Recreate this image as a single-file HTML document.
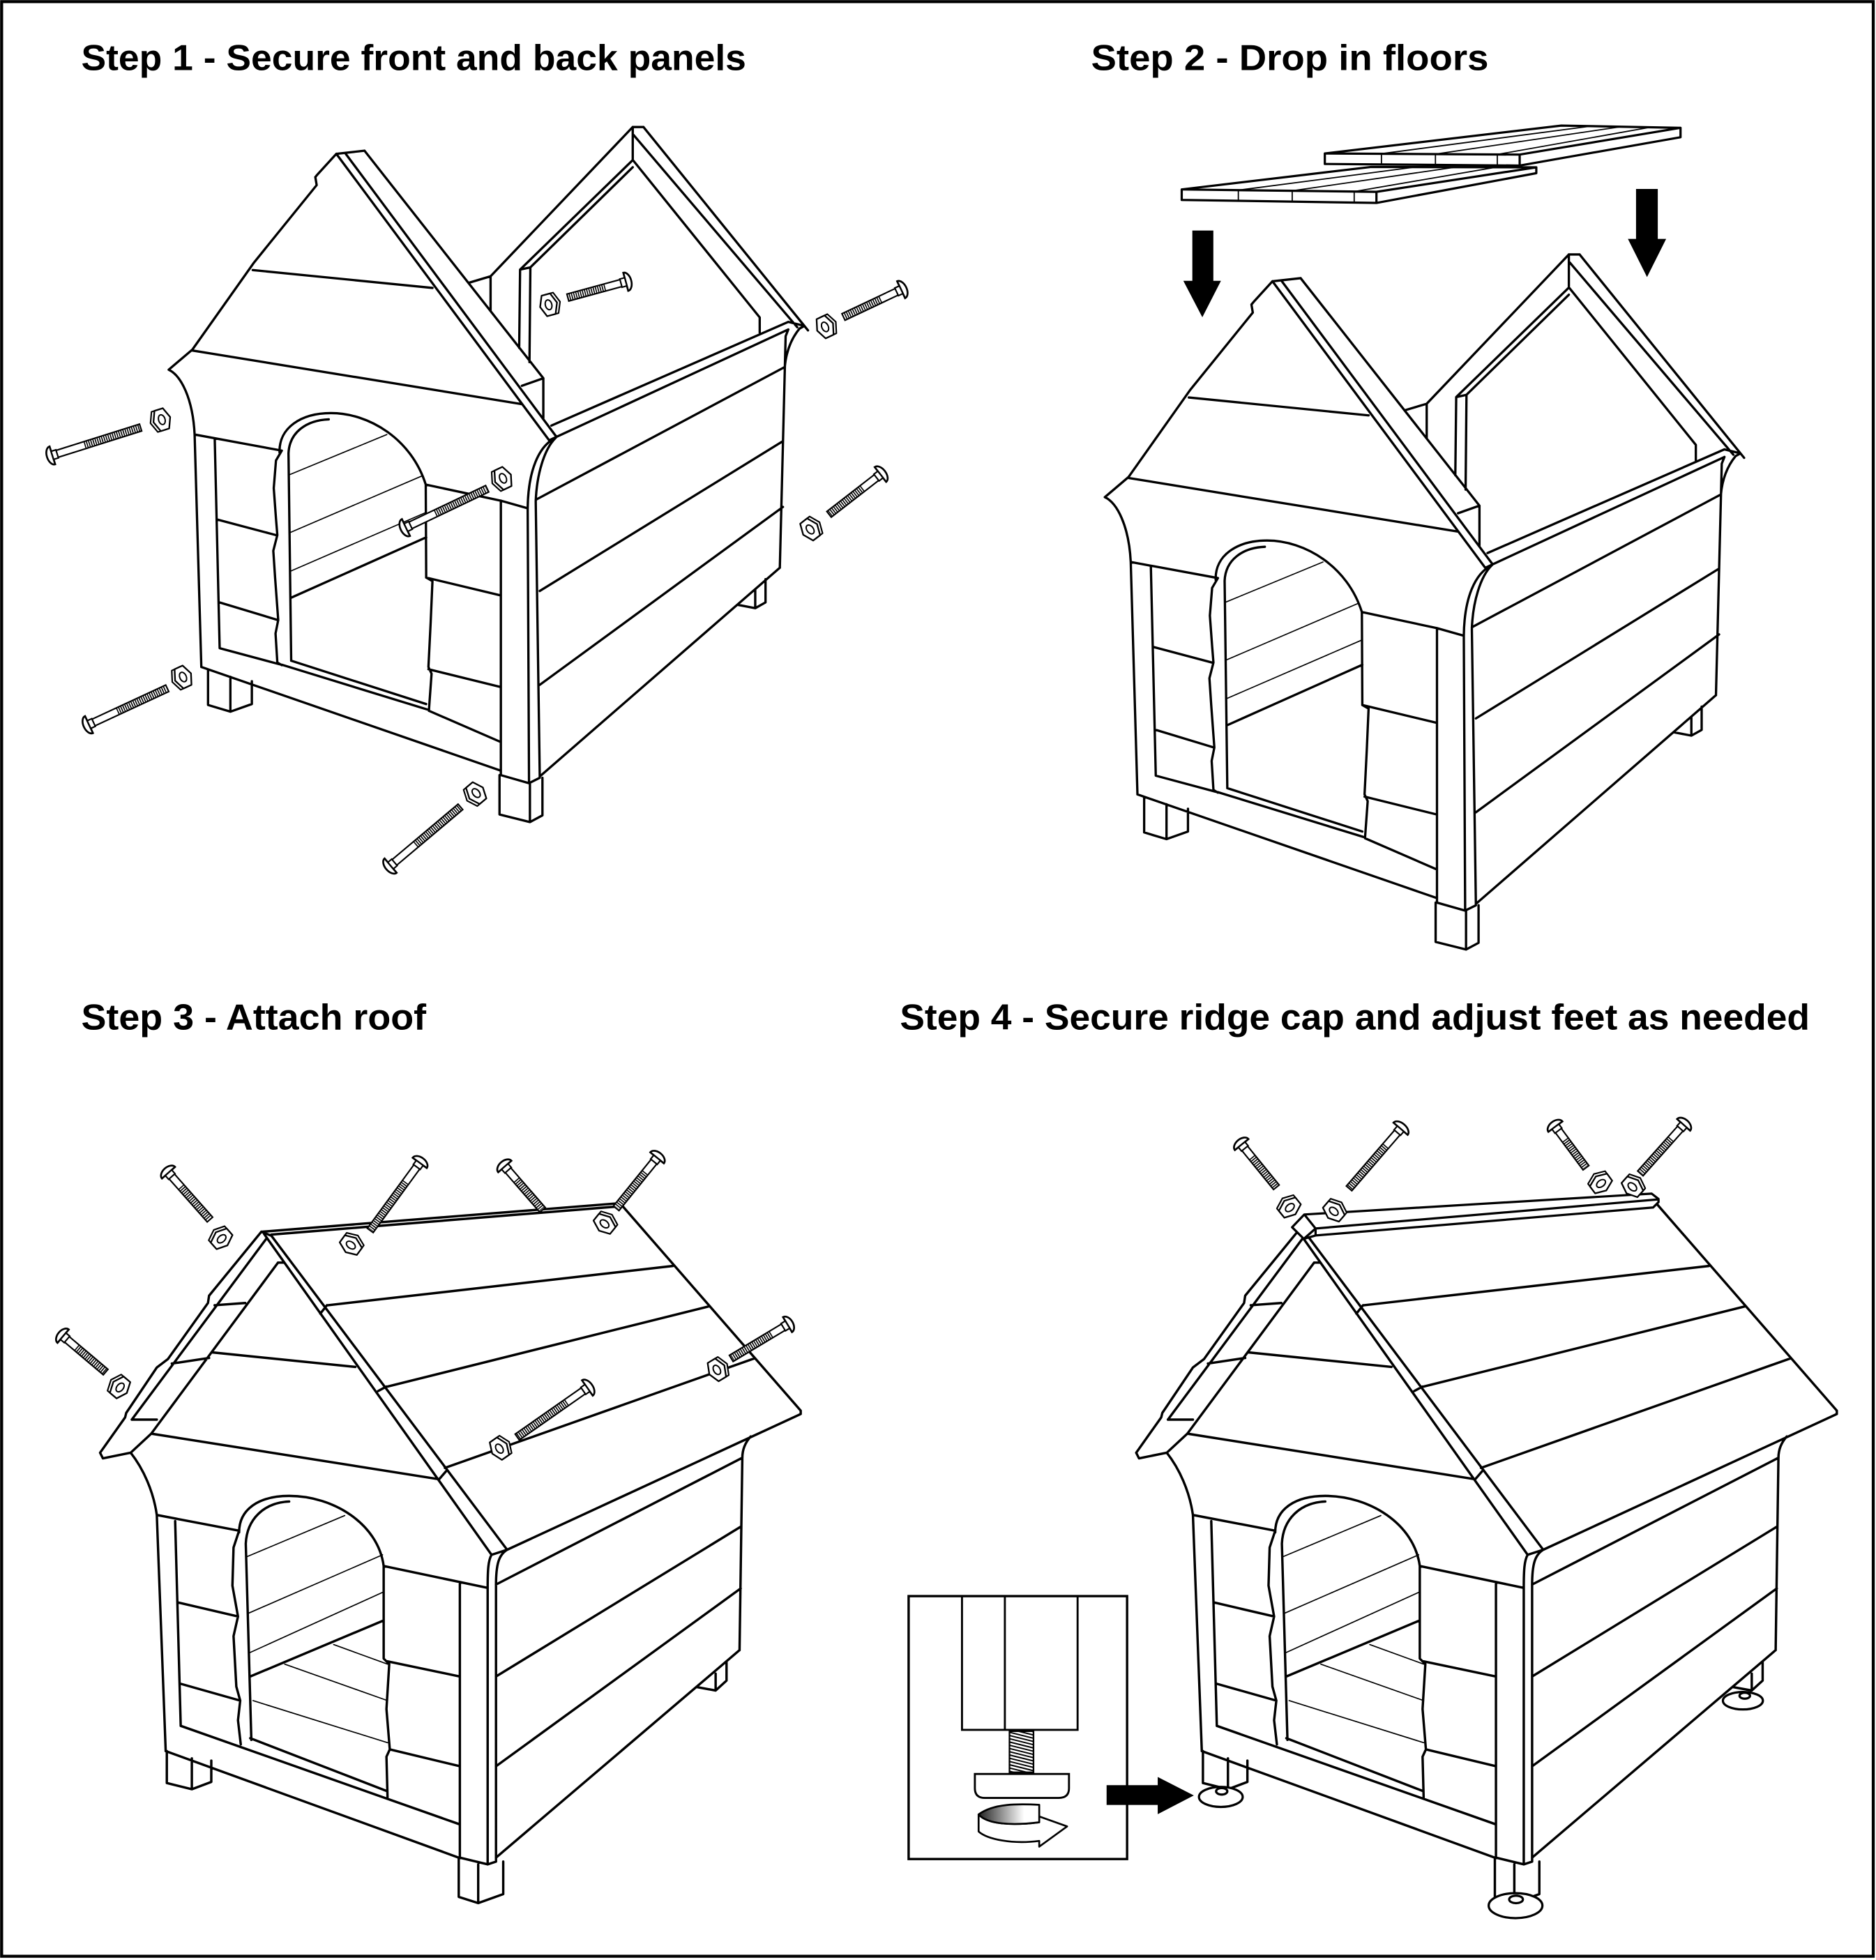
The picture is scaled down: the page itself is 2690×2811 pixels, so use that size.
<!DOCTYPE html>
<html><head><meta charset="utf-8"><style>
html,body{margin:0;padding:0;background:#fff}
svg{display:block}
</style></head><body>
<svg xmlns="http://www.w3.org/2000/svg" xmlns:xlink="http://www.w3.org/1999/xlink" width="2690" height="2811" viewBox="0 0 1501 1568.5" preserveAspectRatio="none">
<defs>
 <linearGradient id="gr" x1="0" x2="1" y1="0" y2="0"><stop offset="0" stop-color="#222"/><stop offset="0.75" stop-color="#fff"/></linearGradient>
 <clipPath id="thc"><rect x="807.7" y="1385.4" width="19.2" height="32.9"/></clipPath>
 <g id="hA" fill="none" stroke="#000" stroke-width="5.2" stroke-linejoin="round" stroke-linecap="round">
  <path d="M1060,-8 L1084,-8 M1060,-8 L742,326 L742,402 M695,340 L742,326 M1060,-8 L1060,66 L808,311 L806,486 M1060,82 L831,306 L829,518 M808,311 L831,306 M1084,-8 L1452,447 M1062,10 L1428,440 M1062,68 L1344,418 L1344,452
  M397,52 L460,45 M397,52 L355,98 L350,104 L353,122 L213,295 L208,302 L75,490 L22,535 C50,548 76,600 80,680 L95,1200
  M210,312 L612,352 M75,492 L812,612
  M397,52 L873,693 M418,52 L887,682 M873,693 L890,685 L887,682 M460,45 L860,554 M812,571 L860,554 L860,643
  M878,660 L1408,428 M890,685 L1408,445 M1408,428 L1444,437 L1433,443 C1415,465 1403,495 1400,530 M1408,445 L1402,460 L1389,978
  M888,687 C850,705 826,760 825,845 M888,687 C862,712 845,770 843,830 L852,1445
  M80,680 L275,716 M125,690 L136,1158 L270,1194 M95,1200 L765,1432
  M275,1195 L600,1295 M296,1186 L598,1283 M604,1298 L765,1368
  M130,870 L262,905 M134,1055 L266,1095
  M275,716 L262,738 L257,800 L262,868 L265,905 L256,940 L260,1000 L267,1095 L261,1125 L265,1190 L275,1196
  M290,722 L296,1186
  M270,720 C268,665 318,632 385,632 C470,632 565,690 597,792 M290,722 C292,675 330,648 380,646
  M597,792 L598,1000 M597,792 L765,828 M598,1000 L765,1040 M603,1205 L765,1245
  M598,1000 L612,1008 L608,1100 L603,1200 L610,1215 L604,1298
  M765,828 L825,845 M765,828 L765,1442 M825,845 L828,1460 M765,1442 L828,1460 L852,1448
  M762,1442 L762,1530 L830,1547 L858,1532 L858,1448 M830,1460 L830,1547
  M110,1207 L110,1285 L160,1300 L208,1283 L208,1232 M160,1222 L160,1300
  M843,826 L1398,530 M852,1030 L1394,696 M852,1240 L1396,842 M852,1445 L1389,978
  M1295,1061 L1334,1068.5 L1357,1055.6 L1357,1003.6 M1334,1027 L1334,1068.5
  M296,1045 L598,910"/>
  <path stroke-width="2.6" d="M292,770 L510,680 M292,900 L590,772 M296,985 L596,855"/>
 </g>
 <g id="hB" fill="none" stroke="#000" stroke-width="4.3" stroke-linejoin="round" stroke-linecap="round">
  <path d="M470,269 L1115,218 L1440,588 L1440,594 L912,836 M488,274 L1110,224
  M590,400 L1210,330 M697,545 L1275,402 M800,690 L1356,495
  M470,269 L488,276 M475,273 L884,845 M488,276 L912,836 M884,845 L912,836
  M576,415 L588,400 M680,553 L695,545 M790,710 L803,695
  M470,269 L376,383 L374,396 L302,496 L282,511 L227,592 L225,600 L180,663 L185,673 L235,663 L272,629
  M480,280 L237,604
  M500,324 L272,629 M500,324 L511,324 M386,400 L441,396 M309,504 L376,494 M237,604 L282,604
  M381,484 L639,510 M272,629 L788,710
  M235,663 C258,692 276,732 282,774 L298,1195
  M282,774 L430,802 M315,785 L325,1150 M320,930 L428,955 M325,1075 L432,1105
  M325,1150 L825,1325 M298,1195 L825,1385 M450,1172 L695,1266
  M430,802 L420,832 L418,900 L428,955 L420,990 L425,1080 L432,1105 L428,1140 L433,1183
  M442,825 L452,1175
  M430,805 C430,762 468,740 520,740 C600,740 680,790 690,865 M442,825 C444,782 474,752 520,750
  M690,865 L690,1030 L700,1040 L695,1120 L701,1192 L695,1205 L697,1280
  M690,865 L877,904 M697,1035 L827,1062 M701,1192 L827,1222
  M827,897 L827,1385 M877,904 L877,1397 M827,1385 L877,1397 L892,1392
  M884,845 C878,855 877,872 877,904 M912,836 C897,845 892,862 892,899 L892,1392
  M825,1385 L825,1455 L860,1466 L905,1450 L905,1392 M860,1397 L860,1466
  M300,1195 L300,1252 L345,1263 L380,1250 L380,1212 M345,1208 L345,1263
  M892,898 L1335,672 M1350,634 C1340,645 1335,658 1335,672 L1330,1015 M892,1062 L1332,795 M892,1222 L1332,905 M892,1385 L1330,1015
  M1254,1081 L1287,1087 L1306.6,1069.3 L1306.6,1036 M1287,1057 L1287,1087
  M450,1062 L690,962"/>
  <path stroke-width="2.1" d="M445,848 L620,775 M445,950 L688,845 M448,1020 L688,912 M512,1040 L697,1105 M600,1005 L697,1040 M455,1105 L697,1180"/>
 </g>
 <g id="nut">
  <polygon points="-5.5,-8.5 1.5,-8.5 5,0 1.5,8.5 -5.5,8.5 -9,0" fill="#fff" stroke="#000" stroke-width="1.2" stroke-linejoin="round"/>
  <polygon points="-3,-8.5 4,-8.5 7.5,0 4,8.5 -3,8.5 -6.5,0" fill="#fff" stroke="#000" stroke-width="1.3" stroke-linejoin="round"/>
  <ellipse cx="0.5" cy="0" rx="2.6" ry="4" fill="#fff" stroke="#000" stroke-width="1.1"/>
 </g>
</defs>

<rect x="1.3" y="1.3" width="1497.5" height="1564.2" fill="none" stroke="#000" stroke-width="2.4"/>

<g font-family="'Liberation Sans', 'DejaVu Sans', sans-serif" font-weight="bold" font-size="29" fill="#000">
 <text x="65" y="56" textLength="532" lengthAdjust="spacingAndGlyphs">Step 1 - Secure front and back panels</text>
 <text x="873" y="56" textLength="318" lengthAdjust="spacingAndGlyphs">Step 2 - Drop in floors</text>
 <text x="65" y="824" textLength="276" lengthAdjust="spacingAndGlyphs">Step 3 - Attach roof</text>
 <text x="720" y="824" textLength="728" lengthAdjust="spacingAndGlyphs">Step 4 - Secure ridge cap and adjust feet as needed</text>
</g>

<!-- houses -->
<use xlink:href="#hA" href="#hA" transform="translate(127.1,104.5) scale(0.3577)"/>
<use xlink:href="#hA" href="#hA" transform="translate(876.1,206.5) scale(0.3577)"/>
<use xlink:href="#hB" href="#hB" transform="translate(0,865) scale(0.4449,0.4488)"/>
<use xlink:href="#hB" href="#hB" transform="translate(829,865) scale(0.4449,0.4488)"/>

<!-- step 2 floors -->
<g fill="#fff" stroke="#000" stroke-width="1.8" stroke-linejoin="round">
 <path d="M1060,122.8 L1249.2,100.5 L1344.6,102.3 L1344.6,109.8 L1215.9,132.5 L1060,131.2 Z"/>
 <path d="M1060,122.8 L1215.9,123.7 L1344.6,102.3 M1215.9,123.7 L1215.9,132.5" fill="none"/>
 <path d="M1105.3,123 V131.5 M1148.5,123.3 V131.8 M1198,123.6 V132.3" fill="none" stroke-width="1"/>
 <path d="M1105.3,123 L1273,100.9 M1148.5,123.3 L1297,101.4 M1198,123.6 L1320,101.9" fill="none" stroke-width="1"/>
 <path d="M945.5,151.6 L1097,133.6 L1229.2,133.9 L1229.2,138.6 L1101.3,162.4 L945.5,160 Z"/>
 <path d="M945.5,151.6 L1101.3,153.5 L1229.2,133.9 M1101.3,153.5 L1101.3,162.4" fill="none"/>
 <path d="M990.8,152.2 V160.7 M1033.9,152.7 V161.3 M1083.5,153.3 V162" fill="none" stroke-width="1"/>
 <path d="M990.8,152.2 L1130,134 M1033.9,152.7 L1163,134 M1083.5,153.3 L1196,134" fill="none" stroke-width="1"/>
</g>
<g fill="#000">
 <path d="M954,184.5 L970.8,184.5 L970.8,224.7 L976.9,224.7 L962,253.9 L946.8,224.7 L954,224.7 Z"/>
 <path d="M1309,151.2 L1326.4,151.2 L1326.4,191.2 L1333.1,191.2 L1317.8,221.7 L1302.5,191.2 L1309,191.2 Z"/>
</g>

<!-- step 4 ridge cap -->
<g fill="#fff" stroke="#000" stroke-width="1.8" stroke-linejoin="round">
 <path d="M1033.8,982.1 L1043.6,971.9 L1321.5,955.2 L1327,959.5 L1327,962 L1322.7,966.3 L1052.6,988.7 L1043.2,991.4 Z"/>
 <path d="M1043.6,971.9 L1052.6,983.1 L1043.2,991.4 M1052.6,983.1 L1327,959.8 M1052.6,983.1 L1052.6,988.7" fill="none"/>
</g>

<!-- step 4 pads -->
<g fill="#fff" stroke="#000" stroke-width="1.8">
 <ellipse cx="976.8" cy="1438" rx="17.5" ry="8"/>
 <ellipse cx="977.5" cy="1433.5" rx="4.5" ry="2.6"/>
 <ellipse cx="1212.6" cy="1525" rx="21.5" ry="10"/>
 <ellipse cx="1213" cy="1520" rx="5.5" ry="3"/>
 <ellipse cx="1394.5" cy="1361" rx="16" ry="7"/>
 <ellipse cx="1396" cy="1357" rx="4.2" ry="2.4"/>
</g>

<!-- bolts -->
<g id="bolts">
 <!-- step 1 -->
 <g transform="translate(40,365) rotate(-17.5)"><path d="M5,-2.9 H76 V2.9 H5 Z" fill="#fff" stroke="#000" stroke-width="1.2"/><line x1="29" x2="75.2" y1="0" y2="0" stroke="#000" stroke-width="4.8" stroke-dasharray="0.9 0.9"/><path d="M2,-7.5 A4.5 7.5 0 0 0 2,7.5 Z" fill="#fff" stroke="#000" stroke-width="1.5"/><rect x="2" y="-3.4" width="4" height="6.8" fill="#fff" stroke="#000" stroke-width="1.2"/></g>
 <use href="#nut" xlink:href="#nut" transform="translate(129,336) rotate(-17.5)"/>
 <g transform="translate(69.4,580.7) rotate(-24.9)"><path d="M5,-2.9 H71 V2.9 H5 Z" fill="#fff" stroke="#000" stroke-width="1.2"/><line x1="27" x2="70.2" y1="0" y2="0" stroke="#000" stroke-width="4.8" stroke-dasharray="0.9 0.9"/><path d="M2,-7.5 A4.5 7.5 0 0 0 2,7.5 Z" fill="#fff" stroke="#000" stroke-width="1.5"/><rect x="2" y="-3.4" width="4" height="6.8" fill="#fff" stroke="#000" stroke-width="1.2"/></g>
 <use href="#nut" xlink:href="#nut" transform="translate(146,542) rotate(-24.9)"/>
 <g transform="translate(311,694) rotate(-40.1)"><path d="M5,-2.9 H75 V2.9 H5 Z" fill="#fff" stroke="#000" stroke-width="1.2"/><line x1="28" x2="74.2" y1="0" y2="0" stroke="#000" stroke-width="4.8" stroke-dasharray="0.9 0.9"/><path d="M2,-7.5 A4.5 7.5 0 0 0 2,7.5 Z" fill="#fff" stroke="#000" stroke-width="1.5"/><rect x="2" y="-3.4" width="4" height="6.8" fill="#fff" stroke="#000" stroke-width="1.2"/></g>
 <use href="#nut" xlink:href="#nut" transform="translate(380.6,635) rotate(-40.1)"/>
 <g transform="translate(323,423) rotate(-25.5)"><path d="M5,-2.9 H74 V2.9 H5 Z" fill="#fff" stroke="#000" stroke-width="1.2"/><line x1="28" x2="73.2" y1="0" y2="0" stroke="#000" stroke-width="4.8" stroke-dasharray="0.9 0.9"/><path d="M2,-7.5 A4.5 7.5 0 0 0 2,7.5 Z" fill="#fff" stroke="#000" stroke-width="1.5"/><rect x="2" y="-3.4" width="4" height="6.8" fill="#fff" stroke="#000" stroke-width="1.2"/></g>
 <use href="#nut" xlink:href="#nut" transform="translate(402,383) rotate(-25.5)"/>
 <g transform="translate(502.6,225) rotate(164.8)"><path d="M5,-2.9 H50 V2.9 H5 Z" fill="#fff" stroke="#000" stroke-width="1.2"/><line x1="19" x2="49.2" y1="0" y2="0" stroke="#000" stroke-width="4.8" stroke-dasharray="0.9 0.9"/><path d="M2,-7.5 A4.5 7.5 0 0 0 2,7.5 Z" fill="#fff" stroke="#000" stroke-width="1.5"/><rect x="2" y="-3.4" width="4" height="6.8" fill="#fff" stroke="#000" stroke-width="1.2"/></g>
 <use href="#nut" xlink:href="#nut" transform="translate(439.4,243.8) rotate(164.8)"/>
 <g transform="translate(722.8,231) rotate(154.7)"><path d="M5,-2.9 H53 V2.9 H5 Z" fill="#fff" stroke="#000" stroke-width="1.2"/><line x1="20" x2="52.2" y1="0" y2="0" stroke="#000" stroke-width="4.8" stroke-dasharray="0.9 0.9"/><path d="M2,-7.5 A4.5 7.5 0 0 0 2,7.5 Z" fill="#fff" stroke="#000" stroke-width="1.5"/><rect x="2" y="-3.4" width="4" height="6.8" fill="#fff" stroke="#000" stroke-width="1.2"/></g>
 <use href="#nut" xlink:href="#nut" transform="translate(660.6,261.4) rotate(154.7)"/>
 <g transform="translate(706,378.5) rotate(142.2)"><path d="M5,-2.9 H54 V2.9 H5 Z" fill="#fff" stroke="#000" stroke-width="1.2"/><line x1="20" x2="53.2" y1="0" y2="0" stroke="#000" stroke-width="4.8" stroke-dasharray="0.9 0.9"/><path d="M2,-7.5 A4.5 7.5 0 0 0 2,7.5 Z" fill="#fff" stroke="#000" stroke-width="1.5"/><rect x="2" y="-3.4" width="4" height="6.8" fill="#fff" stroke="#000" stroke-width="1.2"/></g>
 <use href="#nut" xlink:href="#nut" transform="translate(648.6,423.4) rotate(142.2)"/>

 <!-- step 3 -->
 <g transform="translate(133.5,937) rotate(48.5)"><path d="M5,-2.9 H52 V2.9 H5 Z" fill="#fff" stroke="#000" stroke-width="1.2"/><line x1="17" x2="51.2" y1="0" y2="0" stroke="#000" stroke-width="4.8" stroke-dasharray="0.9 0.9"/><path d="M2,-7 A4.5 7 0 0 0 2,7 Z" fill="#fff" stroke="#000" stroke-width="1.5"/><rect x="2" y="-3.4" width="4" height="6.8" fill="#fff" stroke="#000" stroke-width="1.2"/></g>
 <use href="#nut" xlink:href="#nut" transform="translate(177,991) rotate(48.5)"/>
 <g transform="translate(337,929) rotate(126.2)"><path d="M5,-2.9 H69 V2.9 H5 Z" fill="#fff" stroke="#000" stroke-width="1.2"/><line x1="21" x2="68.2" y1="0" y2="0" stroke="#000" stroke-width="4.8" stroke-dasharray="0.9 0.9"/><path d="M2,-7 A4.5 7 0 0 0 2,7 Z" fill="#fff" stroke="#000" stroke-width="1.5"/><rect x="2" y="-3.4" width="4" height="6.8" fill="#fff" stroke="#000" stroke-width="1.2"/></g>
 <use href="#nut" xlink:href="#nut" transform="translate(281,996) rotate(126.2)"/>
 <g transform="translate(402.6,932) rotate(49)"><path d="M5,-2.9 H48 V2.9 H5 Z" fill="#fff" stroke="#000" stroke-width="1.2"/><line x1="16" x2="47.2" y1="0" y2="0" stroke="#000" stroke-width="4.8" stroke-dasharray="0.9 0.9"/><path d="M2,-7 A4.5 7 0 0 0 2,7 Z" fill="#fff" stroke="#000" stroke-width="1.5"/><rect x="2" y="-3.4" width="4" height="6.8" fill="#fff" stroke="#000" stroke-width="1.2"/></g>
 <g transform="translate(527,925) rotate(129)"><path d="M5,-2.9 H54 V2.9 H5 Z" fill="#fff" stroke="#000" stroke-width="1.2"/><line x1="17" x2="53.2" y1="0" y2="0" stroke="#000" stroke-width="4.8" stroke-dasharray="0.9 0.9"/><path d="M2,-7 A4.5 7 0 0 0 2,7 Z" fill="#fff" stroke="#000" stroke-width="1.5"/><rect x="2" y="-3.4" width="4" height="6.8" fill="#fff" stroke="#000" stroke-width="1.2"/></g>
 <use href="#nut" xlink:href="#nut" transform="translate(484,979) rotate(129)"/>
 <g transform="translate(49,1068) rotate(40.2)"><path d="M5,-2.9 H46.5 V2.9 H5 Z" fill="#fff" stroke="#000" stroke-width="1.2"/><line x1="16" x2="45.7" y1="0" y2="0" stroke="#000" stroke-width="4.8" stroke-dasharray="0.9 0.9"/><path d="M2,-7 A4.5 7 0 0 0 2,7 Z" fill="#fff" stroke="#000" stroke-width="1.5"/><rect x="2" y="-3.4" width="4" height="6.8" fill="#fff" stroke="#000" stroke-width="1.2"/></g>
 <use href="#nut" xlink:href="#nut" transform="translate(95.7,1110) rotate(40.2)"/>
 <g transform="translate(471.6,1109.6) rotate(145)"><path d="M5,-2.9 H70.5 V2.9 H5 Z" fill="#fff" stroke="#000" stroke-width="1.2"/><line x1="22" x2="69.7" y1="0" y2="0" stroke="#000" stroke-width="4.8" stroke-dasharray="0.9 0.9"/><path d="M2,-7.5 A4.5 7.5 0 0 0 2,7.5 Z" fill="#fff" stroke="#000" stroke-width="1.5"/><rect x="2" y="-3.4" width="4" height="6.8" fill="#fff" stroke="#000" stroke-width="1.2"/></g>
 <use href="#nut" xlink:href="#nut" transform="translate(400,1159) rotate(145)"/>
 <g transform="translate(631.8,1059) rotate(149)"><path d="M5,-2.9 H54.5 V2.9 H5 Z" fill="#fff" stroke="#000" stroke-width="1.2"/><line x1="17" x2="53.7" y1="0" y2="0" stroke="#000" stroke-width="4.8" stroke-dasharray="0.9 0.9"/><path d="M2,-7 A4.5 7 0 0 0 2,7 Z" fill="#fff" stroke="#000" stroke-width="1.5"/><rect x="2" y="-3.4" width="4" height="6.8" fill="#fff" stroke="#000" stroke-width="1.2"/></g>
 <use href="#nut" xlink:href="#nut" transform="translate(574,1096) rotate(149)"/>

 <!-- step 4 -->
 <g transform="translate(992.2,914.4) rotate(50.9)"><path d="M5,-2.9 H46 V2.9 H5 Z" fill="#fff" stroke="#000" stroke-width="1.2"/><line x1="15" x2="45.2" y1="0" y2="0" stroke="#000" stroke-width="4.8" stroke-dasharray="0.9 0.9"/><path d="M2,-7 A4.5 7 0 0 0 2,7 Z" fill="#fff" stroke="#000" stroke-width="1.5"/><rect x="2" y="-3.4" width="4" height="6.8" fill="#fff" stroke="#000" stroke-width="1.2"/></g>
 <use href="#nut" xlink:href="#nut" transform="translate(1031.7,966) rotate(50.9)"/>
 <g transform="translate(1121.9,901.8) rotate(130.8)"><path d="M5,-2.9 H65 V2.9 H5 Z" fill="#fff" stroke="#000" stroke-width="1.2"/><line x1="20" x2="64.2" y1="0" y2="0" stroke="#000" stroke-width="4.8" stroke-dasharray="0.9 0.9"/><path d="M2,-7.5 A4.5 7.5 0 0 0 2,7.5 Z" fill="#fff" stroke="#000" stroke-width="1.5"/><rect x="2" y="-3.4" width="4" height="6.8" fill="#fff" stroke="#000" stroke-width="1.2"/></g>
 <use href="#nut" xlink:href="#nut" transform="translate(1067.5,969) rotate(130.8)"/>
 <g transform="translate(1243.3,900) rotate(53.4)"><path d="M5,-2.9 H43 V2.9 H5 Z" fill="#fff" stroke="#000" stroke-width="1.2"/><line x1="15" x2="42.2" y1="0" y2="0" stroke="#000" stroke-width="4.8" stroke-dasharray="0.9 0.9"/><path d="M2,-7 A4.5 7 0 0 0 2,7 Z" fill="#fff" stroke="#000" stroke-width="1.5"/><rect x="2" y="-3.4" width="4" height="6.8" fill="#fff" stroke="#000" stroke-width="1.2"/></g>
 <use href="#nut" xlink:href="#nut" transform="translate(1280.7,946.7) rotate(53.4)"/>
 <g transform="translate(1348.4,898.7) rotate(131.7)"><path d="M5,-2.9 H54 V2.9 H5 Z" fill="#fff" stroke="#000" stroke-width="1.2"/><line x1="17" x2="53.2" y1="0" y2="0" stroke="#000" stroke-width="4.8" stroke-dasharray="0.9 0.9"/><path d="M2,-7 A4.5 7 0 0 0 2,7 Z" fill="#fff" stroke="#000" stroke-width="1.5"/><rect x="2" y="-3.4" width="4" height="6.8" fill="#fff" stroke="#000" stroke-width="1.2"/></g>
 <use href="#nut" xlink:href="#nut" transform="translate(1306.4,949.4) rotate(131.7)"/>
</g>

<!-- inset -->
<rect x="727" y="1277.3" width="174.8" height="210.4" fill="#fff" stroke="#000" stroke-width="1.9"/>
<path d="M769.7,1277.3 V1384.3 H862.2 V1277.3 M804,1277.3 V1384.3" fill="none" stroke="#000" stroke-width="1.6"/>
<rect x="807.7" y="1385.4" width="19.2" height="32.9" fill="#fff" stroke="#000" stroke-width="1.3"/>
<path clip-path="url(#thc)" d="M806,1378 l22,5.5 M806,1380.6 l22,5.5 M806,1383.2 l22,5.5 M806,1385.8 l22,5.5 M806,1388.4 l22,5.5 M806,1391 l22,5.5 M806,1393.6 l22,5.5 M806,1396.2 l22,5.5 M806,1398.8 l22,5.5 M806,1401.4 l22,5.5 M806,1404 l22,5.5 M806,1406.6 l22,5.5 M806,1409.2 l22,5.5 M806,1411.8 l22,5.5 M806,1414.4 l22,5.5 M806,1417 l22,5.5" stroke="#000" stroke-width="1.1" fill="none"/>
<path d="M780,1419.6 L855.3,1419.6 L855.3,1431 Q855.3,1438.8 847,1438.8 L788,1438.8 Q780,1438.8 780,1431 Z" fill="#fff" stroke="#000" stroke-width="1.6"/>
<path d="M783,1452 C790,1460 810,1461 831.5,1458.3 L831.5,1453.6 L853.8,1461.6 L831.5,1477.8 L831.5,1473.2 C810,1476 790,1472 783,1465.7 Z" fill="#fff" stroke="#000" stroke-width="1.5" stroke-linejoin="round"/>
<path d="M783,1452 C795,1443 815,1443.5 831.5,1444.3 L831.5,1458.3 C810,1461 790,1460 783,1452 Z" fill="url(#gr)" stroke="#000" stroke-width="1.5" stroke-linejoin="round"/>
<path d="M885.4,1428.6 L926.3,1428.6 L926.3,1422 L955.2,1436.8 L926.3,1451.8 L926.3,1444.4 L885.4,1444.4 Z" fill="#000"/>
</svg>
</body></html>
